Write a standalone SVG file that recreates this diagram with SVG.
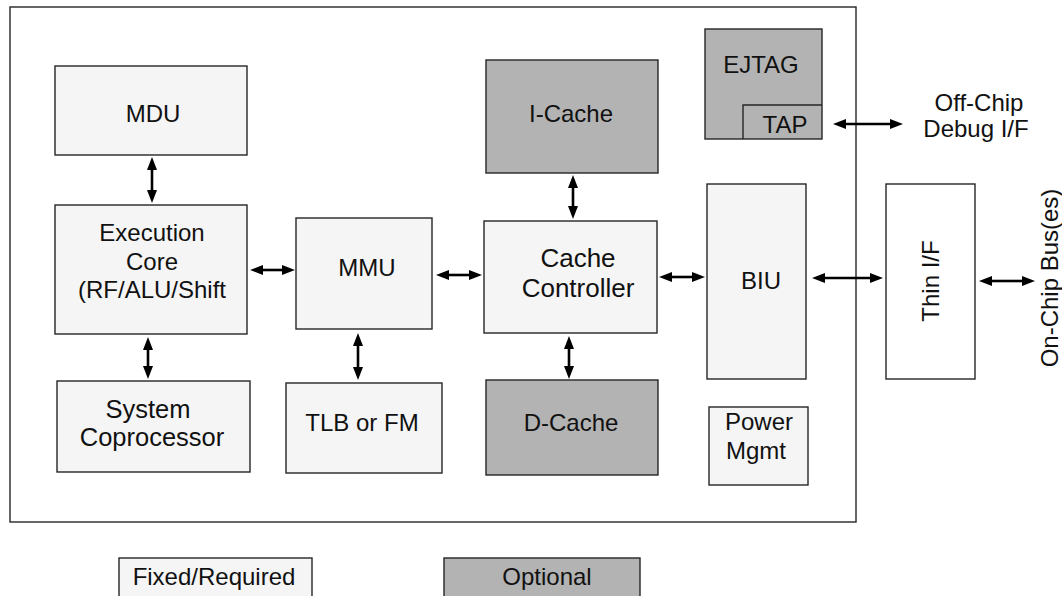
<svg xmlns="http://www.w3.org/2000/svg" width="1062" height="596" viewBox="0 0 1062 596">
<defs>
<style>
.box{fill:#f5f5f5;stroke:#262626;stroke-width:1.4}
.opt{fill:#b3b3b3;stroke:#262626;stroke-width:1.4}
.wht{fill:#ffffff;stroke:#262626;stroke-width:1.4}
text{font-family:"Liberation Sans",Arial,Helvetica,sans-serif;font-size:24px;fill:#111;text-anchor:middle}
.big{font-size:26px}
.big2{font-size:25.5px}
.arr{stroke:#000;stroke-width:2.6;fill:none;marker-start:url(#ah);marker-end:url(#ah)}
</style>
<marker id="ah" viewBox="0 -6 13 12" refX="0" refY="0" markerWidth="13" markerHeight="12" markerUnits="userSpaceOnUse" orient="auto-start-reverse">
<path d="M0,-5 L13,0 L0,5 z" fill="#000"/>
</marker>
</defs>
<rect width="1062" height="596" fill="#fff"/>
<g id="chip"><rect x="10" y="7" width="846" height="515" class="wht"/></g>
<g id="mdu"><rect x="55" y="66" width="192" height="89" class="box"/><text x="153" y="122">MDU</text></g>
<g id="exec"><rect x="55" y="205" width="192" height="129" class="box"/><text x="152" y="241">Execution</text><text x="152" y="270">Core</text><text x="152" y="298">(RF/ALU/Shift</text></g>
<g id="mmu"><rect x="296" y="218" width="136" height="111" class="box"/><text x="367" y="276">MMU</text></g>
<g id="cachectl"><rect x="484" y="221" width="173" height="112" class="box"/><text class="big" x="578" y="267">Cache</text><text class="big" x="578" y="297">Controller</text></g>
<g id="icache"><rect x="486" y="60" width="172" height="113" class="opt"/><text x="571" y="122">I-Cache</text></g>
<g id="dcache"><rect x="486" y="380" width="172" height="95" class="opt"/><text x="571" y="431">D-Cache</text></g>
<g id="syscop"><rect x="57" y="381" width="193" height="91" class="box"/><text class="big2" x="148" y="418">System</text><text class="big2" x="152" y="446">Coprocessor</text></g>
<g id="tlb"><rect x="286" y="383" width="156" height="90" class="box"/><text x="362" y="431">TLB or FM</text></g>
<g id="ejtag"><rect x="705" y="29" width="117" height="110" class="opt"/><text x="761" y="73">EJTAG</text></g>
<g id="tap"><path d="M743,139 V105 H822" fill="none" stroke="#262626" stroke-width="1.4"/><text x="785" y="133">TAP</text></g>
<g id="biu"><rect x="707" y="184" width="99" height="195" class="box"/><text x="761" y="289">BIU</text></g>
<g id="power"><rect x="709" y="407" width="99" height="78" class="box"/><text x="759" y="430">Power</text><text x="756" y="459">Mgmt</text></g>
<g id="thin"><rect x="886" y="184" width="89" height="195" class="wht"/><text transform="translate(939,281) rotate(-90)">Thin I/F</text></g>
<g id="offchip"><text x="979" y="111">Off-Chip</text><text x="976" y="137">Debug I/F</text></g>
<g id="onchip"><text transform="translate(1058,278) rotate(-90)">On-Chip Bus(es)</text></g>
<g id="legend-fixed"><rect x="119" y="558" width="193" height="50" class="box"/><text x="214" y="585">Fixed/Required</text></g>
<g id="legend-opt"><rect x="444" y="558" width="196" height="50" class="opt"/><text x="547" y="585">Optional</text></g>
<g id="connectors">
<line class="arr" x1="152" y1="170" x2="152" y2="190"/>
<line class="arr" x1="263" y1="270" x2="282" y2="270"/>
<line class="arr" x1="449" y1="275" x2="469" y2="275"/>
<line class="arr" x1="573" y1="188" x2="573" y2="206"/>
<line class="arr" x1="672" y1="277" x2="692" y2="277"/>
<line class="arr" x1="148" y1="350" x2="148" y2="366"/>
<line class="arr" x1="358" y1="346" x2="358" y2="367"/>
<line class="arr" x1="569" y1="349" x2="569" y2="366"/>
<line class="arr" x1="825" y1="278" x2="870" y2="278"/>
<line class="arr" x1="992" y1="281" x2="1022" y2="281"/>
<line class="arr" x1="846" y1="124" x2="890" y2="124"/>
</g>
</svg>
